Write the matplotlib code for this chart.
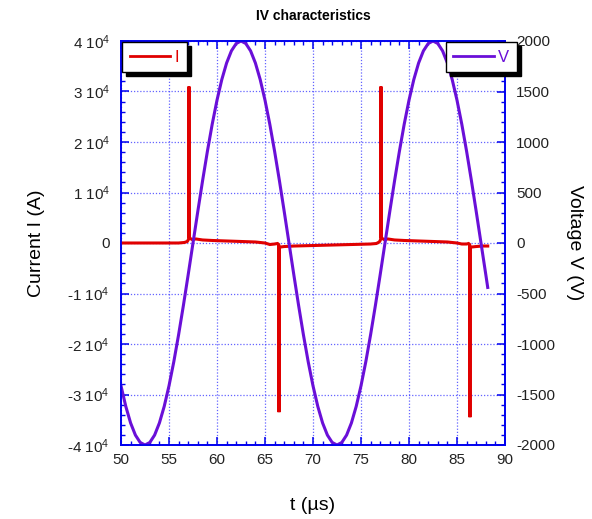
import matplotlib
matplotlib.use("Agg")
import matplotlib.pyplot as plt
from matplotlib.ticker import MultipleLocator, FuncFormatter
from matplotlib.lines import Line2D

plt.rcParams['font.family'] = ['Liberation Sans', 'DejaVu Sans']
plt.rcParams['mathtext.fontset'] = 'custom'
plt.rcParams['mathtext.rm'] = 'Liberation Sans'
plt.rcParams['mathtext.default'] = 'regular'

# Voltage trace (time in us, voltage in V)
t_V = [50.0, 50.5, 51.0, 51.5, 52.0, 52.5, 53.0, 53.5, 54.0, 54.5, 55.0, 55.5, 56.0, 56.5, 57.0,
       57.5, 58.0, 58.5, 59.0, 59.5, 60.0, 60.5, 61.0, 61.5, 62.0, 62.5, 63.0, 63.5, 64.0, 64.5,
       65.0, 65.5, 66.0, 66.5, 67.0, 67.5, 68.0, 68.5, 69.0, 69.5, 70.0, 70.5, 71.0, 71.5, 72.0,
       72.5, 73.0, 73.5, 74.0, 74.5, 75.0, 75.5, 76.0, 76.5, 77.0, 77.5, 78.0, 78.5, 79.0, 79.5,
       80.0, 80.5, 81.0, 81.5, 82.0, 82.5, 83.0, 83.5, 84.0, 84.5, 85.0, 85.5, 86.0, 86.5, 87.0,
       87.5, 88.0, 88.2]
V = [-1414, -1618, -1782, -1902, -1975, -2000, -1975, -1902, -1782, -1618, -1414, -1176, -908, -618, -313,
     0, 313, 618, 908, 1176, 1414, 1618, 1782, 1902, 1975, 2000, 1975, 1902, 1782, 1618,
     1414, 1176, 908, 618, 313, 0, -313, -618, -908, -1176, -1414, -1618, -1782, -1902, -1975,
     -2000, -1975, -1902, -1782, -1618, -1414, -1176, -908, -618, -313, 0, 313, 618, 908, 1176,
     1414, 1618, 1782, 1902, 1975, 2000, 1975, 1902, 1782, 1618, 1414, 1176, 908, 618, 313,
     0, -313, -440]

# Current trace (time in us, current in A)
t_I = [50.0, 52.0, 54.0, 56.0, 56.6, 56.9, 57.0, 57.05, 57.08, 57.11, 57.2, 57.4, 57.8, 58.5, 59.5,
       61.0, 62.5, 64.0, 65.0, 65.5, 66.0, 66.3, 66.43, 66.46, 66.49, 66.6, 67.0, 68.0, 70.0,
       72.0, 74.0, 76.0, 76.6, 76.9, 77.0, 77.05, 77.08, 77.11, 77.2, 77.4, 77.8, 78.5, 79.5,
       81.0, 82.5, 84.0, 85.0, 85.5, 86.0, 86.2, 86.32, 86.35, 86.38, 86.5, 87.0, 87.6, 88.2]
I = [0, 0, 0, 0, 100, 300, 600, 900, 31000, 1200, 900, 700, 800, 600, 500,
     400, 300, 200, 0, -300, -200, -100, -300, -33500, -800, -800, -700, -600, -500,
     -400, -300, -200, -100, 200, 500, 800, 31000, 1200, 900, 700, 800, 600, 500,
     400, 300, 200, 0, -200, -200, -100, -300, -34500, -800, -800, -700, -600, -600]

xticks = [50, 55, 60, 65, 70, 75, 80, 85, 90]

fig = plt.figure(figsize=(5.92, 5.19), dpi=100)
ax = fig.add_axes([121/592, 1-445/519, 384/592, 404/519])
ax2 = ax.twinx()

blue = '#0000ee'
red = '#e00000'
purple = '#6a0fd8'

ax.plot(t_I, I, color=red, lw=2.2, solid_joinstyle='miter', zorder=3)
ax2.plot(t_V, V, color=purple, lw=2.2, zorder=2)

ax.set_xlim(50, 90)
ax.set_ylim(-40000, 40000)
ax2.set_ylim(-2000, 2000)

ax.set_xticks(xticks)
ax.xaxis.set_minor_locator(MultipleLocator(1))
ax.yaxis.set_major_locator(MultipleLocator(10000))
ax.yaxis.set_minor_locator(MultipleLocator(2000))
ax2.yaxis.set_major_locator(MultipleLocator(500))
ax2.yaxis.set_minor_locator(MultipleLocator(100))

def cur_fmt(v, pos):
    n = int(round(v / 10000))
    if n == 0:
        return '0'
    return '%d 10$^{4}$' % n

ax.yaxis.set_major_formatter(FuncFormatter(cur_fmt))
ax2.yaxis.set_major_formatter(FuncFormatter(lambda v, p: '%d' % v))

for a in (ax, ax2):
    for s in a.spines.values():
        s.set_color(blue)
        s.set_linewidth(1.2)
    a.tick_params(which='both', direction='in', color=blue, labelsize=11, labelcolor='#222222')
    a.tick_params(which='major', length=6, width=1.1)
    a.tick_params(which='minor', length=3, width=1)

ax.tick_params(axis='x', which='both', top=True, pad=6)
ax.tick_params(axis='y', which='both', pad=8)
ax2.tick_params(axis='y', which='both', pad=8)

ax.grid(True, which='major', color='#3030ff', linestyle=(0, (1, 1.5)), linewidth=0.9, alpha=0.75)

ax.set_xlabel('t (\u00b5s)', fontsize=14, labelpad=21)
ax.set_ylabel('Current I (A)', fontsize=14, labelpad=16)
ax2.set_ylabel('Voltage V (V)', fontsize=14, rotation=-90, labelpad=20)
fig.text(0.5 * (121 + 505) / 592, 1 - 16 / 519, 'IV characteristics', ha='center', va='center',
         fontsize=10, fontweight='bold')

shadow = {'color': 'black', 'alpha': 1, 'ox': 3, 'oy': -3}
legI = ax2.legend([Line2D([], [], color=red, lw=2)], ['I'], loc='upper left',
                  bbox_to_anchor=(122/592, 1-42/519), bbox_transform=fig.transFigure,
                  borderaxespad=0, frameon=True, fancybox=False, shadow=shadow,
                  edgecolor='black', framealpha=1, fontsize=12, handlelength=2.45,
                  handletextpad=0.25, borderpad=0.45, labelcolor=red)
legI.get_frame().set_linewidth(1)
legI.set_zorder(10)
ax2.add_artist(legI)
legV = ax2.legend([Line2D([], [], color=purple, lw=2)], ['V'], loc='upper right',
                  bbox_to_anchor=(517/592, 1-42/519), bbox_transform=fig.transFigure,
                  borderaxespad=0, frameon=True, fancybox=False, shadow=shadow,
                  edgecolor='black', framealpha=1, fontsize=12, handlelength=2.45,
                  handletextpad=0.25, borderpad=0.45, labelcolor=purple)
legV.get_frame().set_linewidth(1)
legV.set_zorder(10)

fig.savefig('out.png', dpi=100)
